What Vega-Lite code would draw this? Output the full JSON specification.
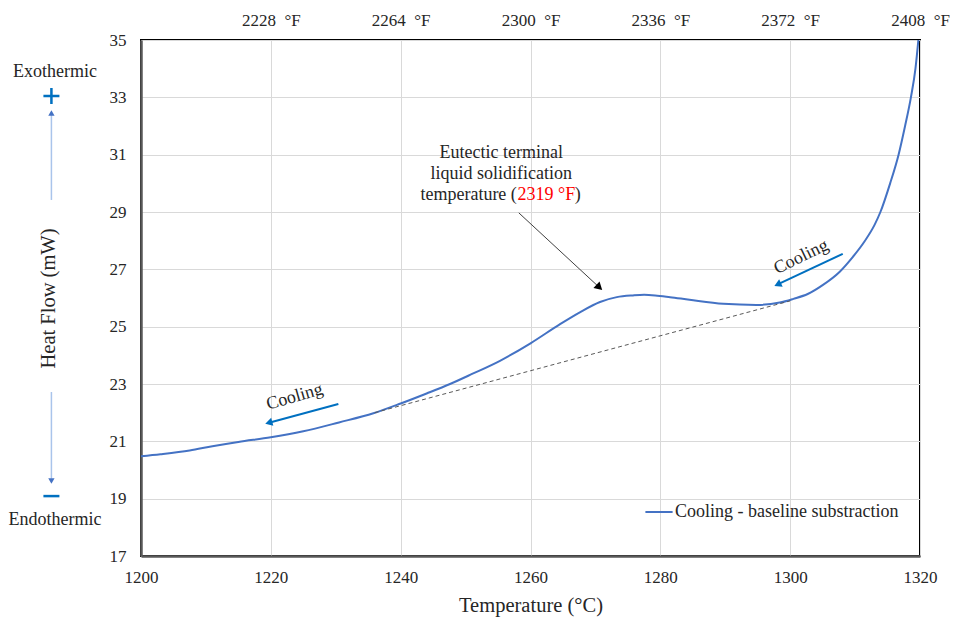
{
  "$schema": "https://vega.github.io/schema/vega-lite/v6.json",
  "width": 779,
  "height": 516,
  "autosize": {"type": "none"},
  "padding": {"left": 141, "top": 40, "right": 35, "bottom": 64},
  "background": "white",
  "config": {
    "font": "Liberation Serif",
    "view": {"stroke": "#000000", "strokeWidth": 2},
    "axis": {"labelFont": "Liberation Serif", "titleFont": "Liberation Serif", "labelColor": "#262626", "titleColor": "#262626", "ticks": false, "tickSize": 0, "gridColor": "#d9d9d9", "gridWidth": 1, "titleFontWeight": "normal", "labelFlush": false, "labelOverlap": false},
    "legend": {"labelFont": "Liberation Serif"}
  },
  "datasets": {
    "curve": [
      {"temp": 1200, "flow": 20.48},
      {"temp": 1203, "flow": 20.55},
      {"temp": 1207.5, "flow": 20.68},
      {"temp": 1211, "flow": 20.83},
      {"temp": 1215, "flow": 20.98},
      {"temp": 1220, "flow": 21.14},
      {"temp": 1225, "flow": 21.35},
      {"temp": 1230.5, "flow": 21.66},
      {"temp": 1235.8, "flow": 21.98},
      {"temp": 1240, "flow": 22.32},
      {"temp": 1244, "flow": 22.67},
      {"temp": 1247.6, "flow": 23.0},
      {"temp": 1251, "flow": 23.35},
      {"temp": 1255.3, "flow": 23.81},
      {"temp": 1260, "flow": 24.42},
      {"temp": 1264.5, "flow": 25.08},
      {"temp": 1267.6, "flow": 25.5},
      {"temp": 1270.7, "flow": 25.86},
      {"temp": 1273.3, "flow": 26.03},
      {"temp": 1275.8, "flow": 26.09},
      {"temp": 1277.5, "flow": 26.11},
      {"temp": 1279.2, "flow": 26.09},
      {"temp": 1281.5, "flow": 26.03},
      {"temp": 1284.5, "flow": 25.94},
      {"temp": 1289.7, "flow": 25.8},
      {"temp": 1294.8, "flow": 25.76},
      {"temp": 1298.4, "flow": 25.84},
      {"temp": 1300.5, "flow": 25.97},
      {"temp": 1302.7, "flow": 26.14},
      {"temp": 1305, "flow": 26.45},
      {"temp": 1307.6, "flow": 26.91},
      {"temp": 1309.6, "flow": 27.42},
      {"temp": 1311.5, "flow": 27.99},
      {"temp": 1313, "flow": 28.55},
      {"temp": 1313.9, "flow": 29.0},
      {"temp": 1315.4, "flow": 30.0},
      {"temp": 1316.7, "flow": 31.0},
      {"temp": 1317.7, "flow": 32.0},
      {"temp": 1318.6, "flow": 33.0},
      {"temp": 1319.3, "flow": 34.0},
      {"temp": 1319.75, "flow": 35.0}
    ]
  },
  "resolve": {"axis": {"x": "independent", "y": "independent"}},
  "layer": [
    {
      "data": {"name": "curve"},
      "mark": {"type": "line", "strokeWidth": 2, "interpolate": "monotone"},
      "encoding": {
        "x": {"field": "temp", "type": "quantitative", "scale": {"domain": [1200, 1320], "nice": false, "zero": false},
          "axis": {"orient": "bottom", "title": "Temperature (°C)", "format": "d", "values": [1200, 1220, 1240, 1260, 1280, 1300, 1320], "grid": true, "labelFontSize": 17, "labelPadding": 21, "labelBaseline": "middle", "titleFontSize": 20.5, "titleY": 49, "titleBaseline": "middle", "domainColor": "#595959", "domainWidth": 2.5}},
        "y": {"field": "flow", "type": "quantitative", "scale": {"domain": [17, 35], "nice": false, "zero": false},
          "axis": {"title": "Heat Flow (mW)", "values": [17, 19, 21, 23, 25, 27, 29, 31, 33, 35], "grid": true, "labelFontSize": 17, "labelPadding": 15, "labelBaseline": "middle", "titleFontSize": 20.5, "titleX": -93, "titleY": 258, "titleBaseline": "middle", "domainColor": "#595959", "domainWidth": 2.5}},
        "color": {"datum": "Cooling - baseline substraction", "type": "nominal", "scale": {"range": ["#4472C4"]},
          "legend": {"title": null, "orient": "none", "legendX": 503, "legendY": 457, "symbolType": "stroke", "symbolSize": 740, "symbolStrokeWidth": 2, "labelFontSize": 18, "labelColor": "#262626", "labelOffset": 1, "labelLimit": 0}}
      }
    },
    {
      "data": {"values": [{"temp": 1236, "flow": 22.0}, {"temp": 1300, "flow": 25.9}]},
      "mark": {"type": "line", "color": "#595959", "strokeWidth": 1, "strokeDash": [4, 3]},
      "encoding": {
        "x": {"field": "temp", "type": "quantitative",
          "axis": {"orient": "top", "title": null, "values": [1220, 1240, 1260, 1280, 1300, 1320], "labelExpr": "format(datum.value * 1.8 + 32, 'd') + '\u00a0 °F'", "grid": false, "domain": false, "labelFontSize": 17, "labelPadding": 20, "labelBaseline": "middle"}},
        "y": {"field": "flow", "type": "quantitative", "axis": null}
      }
    },
    {
      "data": {"values": [{"temp": 1258.2, "flow": 28.97}, {"temp": 1270.46, "flow": 26.4}]},
      "mark": {"type": "line", "color": "#404040", "strokeWidth": 1},
      "encoding": {
        "x": {"field": "temp", "type": "quantitative", "axis": null},
        "y": {"field": "flow", "type": "quantitative", "axis": null}
      }
    },
    {
      "data": {"values": [{"temp": 1270.46, "flow": 26.4}]},
      "mark": {"type": "point", "shape": "triangle", "filled": true, "color": "#000000", "size": 80, "angle": 133, "opacity": 1},
      "encoding": {
        "x": {"field": "temp", "type": "quantitative", "axis": null},
        "y": {"field": "flow", "type": "quantitative", "axis": null}
      }
    },
    {
      "data": {"values": [
        {"arrow": "low", "temp": 1230.4, "flow": 22.3},
        {"arrow": "low", "temp": 1219.86, "flow": 21.66},
        {"arrow": "high", "temp": 1308.1, "flow": 27.54},
        {"arrow": "high", "temp": 1298.24, "flow": 26.49}
      ]},
      "mark": {"type": "line", "color": "#0070C0", "strokeWidth": 2},
      "encoding": {
        "x": {"field": "temp", "type": "quantitative", "axis": null},
        "y": {"field": "flow", "type": "quantitative", "axis": null},
        "detail": {"field": "arrow", "type": "nominal"}
      }
    },
    {
      "data": {"values": [{"temp": 1219.86, "flow": 21.66}]},
      "mark": {"type": "point", "shape": "triangle", "filled": true, "color": "#0070C0", "size": 70, "angle": 255, "opacity": 1},
      "encoding": {
        "x": {"field": "temp", "type": "quantitative", "axis": null},
        "y": {"field": "flow", "type": "quantitative", "axis": null}
      }
    },
    {
      "data": {"values": [{"temp": 1298.24, "flow": 26.49}]},
      "mark": {"type": "point", "shape": "triangle", "filled": true, "color": "#0070C0", "size": 70, "angle": 245, "opacity": 1},
      "encoding": {
        "x": {"field": "temp", "type": "quantitative", "axis": null},
        "y": {"field": "flow", "type": "quantitative", "axis": null}
      }
    },
    {
      "data": {"values": [{"temp": 1223.67, "flow": 22.55, "label": "Cooling"}]},
      "mark": {"type": "text", "fontSize": 18, "color": "#262626", "angle": -16, "align": "center", "baseline": "middle"},
      "encoding": {
        "x": {"field": "temp", "type": "quantitative", "axis": null},
        "y": {"field": "flow", "type": "quantitative", "axis": null},
        "text": {"field": "label"}
      }
    },
    {
      "data": {"values": [{"temp": 1301.7, "flow": 27.43, "label": "Cooling"}]},
      "mark": {"type": "text", "fontSize": 18, "color": "#262626", "angle": -26, "align": "center", "baseline": "middle"},
      "encoding": {
        "x": {"field": "temp", "type": "quantitative", "axis": null},
        "y": {"field": "flow", "type": "quantitative", "axis": null},
        "text": {"field": "label"}
      }
    },
    {
      "data": {"values": [
        {"temp": 1255.5, "flow": 31.06, "label": "Eutectic terminal"},
        {"temp": 1255.5, "flow": 30.33, "label": "liquid solidification"}
      ]},
      "mark": {"type": "text", "fontSize": 18, "color": "#262626", "align": "center", "baseline": "middle"},
      "encoding": {
        "x": {"field": "temp", "type": "quantitative", "axis": null},
        "y": {"field": "flow", "type": "quantitative", "axis": null},
        "text": {"field": "label"}
      }
    },
    {
      "data": {"values": [{"temp": 1257.9, "flow": 29.59, "label": "temperature ("}]},
      "mark": {"type": "text", "fontSize": 18, "color": "#262626", "align": "right", "baseline": "middle"},
      "encoding": {
        "x": {"field": "temp", "type": "quantitative", "axis": null},
        "y": {"field": "flow", "type": "quantitative", "axis": null},
        "text": {"field": "label"}
      }
    },
    {
      "data": {"values": [{"temp": 1258.0, "flow": 29.59, "label": "2319 °F"}]},
      "mark": {"type": "text", "fontSize": 18, "color": "#FF0000", "align": "left", "baseline": "middle"},
      "encoding": {
        "x": {"field": "temp", "type": "quantitative", "axis": null},
        "y": {"field": "flow", "type": "quantitative", "axis": null},
        "text": {"field": "label"}
      }
    },
    {
      "data": {"values": [{"temp": 1266.8, "flow": 29.59, "label": ")"}]},
      "mark": {"type": "text", "fontSize": 18, "color": "#262626", "align": "left", "baseline": "middle"},
      "encoding": {
        "x": {"field": "temp", "type": "quantitative", "axis": null},
        "y": {"field": "flow", "type": "quantitative", "axis": null},
        "text": {"field": "label"}
      }
    },
    {
      "data": {"values": [
        {"temp": 1186.75, "flow": 33.88, "label": "Exothermic"},
        {"temp": 1186.75, "flow": 18.26, "label": "Endothermic"}
      ]},
      "mark": {"type": "text", "fontSize": 18, "color": "#262626", "align": "center", "baseline": "middle"},
      "encoding": {
        "x": {"field": "temp", "type": "quantitative", "axis": null},
        "y": {"field": "flow", "type": "quantitative", "axis": null},
        "text": {"field": "label"}
      }
    },
    {
      "data": {"values": [{"temp": 1186.2, "flow": 33.05}]},
      "mark": {"type": "point", "shape": "M-1,0H1M0,-1V1", "filled": false, "color": "#0070C0", "size": 256, "strokeWidth": 2.5, "opacity": 1},
      "encoding": {
        "x": {"field": "temp", "type": "quantitative", "axis": null},
        "y": {"field": "flow", "type": "quantitative", "axis": null}
      }
    },
    {
      "data": {"values": [{"temp": 1186.2, "flow": 19.09}]},
      "mark": {"type": "point", "shape": "M-1,0H1", "filled": false, "color": "#0070C0", "size": 256, "strokeWidth": 2.5, "opacity": 1},
      "encoding": {
        "x": {"field": "temp", "type": "quantitative", "axis": null},
        "y": {"field": "flow", "type": "quantitative", "axis": null}
      }
    },
    {
      "data": {"values": [
        {"arrow": "up", "temp": 1186.2, "flow": 29.42},
        {"arrow": "up", "temp": 1186.2, "flow": 32.42},
        {"arrow": "down", "temp": 1186.2, "flow": 22.72},
        {"arrow": "down", "temp": 1186.2, "flow": 19.7}
      ]},
      "mark": {"type": "line", "color": "#A9C4EB", "strokeWidth": 1.5},
      "encoding": {
        "x": {"field": "temp", "type": "quantitative", "axis": null},
        "y": {"field": "flow", "type": "quantitative", "axis": null},
        "detail": {"field": "arrow", "type": "nominal"}
      }
    },
    {
      "data": {"values": [{"temp": 1186.2, "flow": 32.42}]},
      "mark": {"type": "point", "shape": "triangle", "filled": true, "color": "#4472C4", "size": 40, "angle": 0, "opacity": 1},
      "encoding": {
        "x": {"field": "temp", "type": "quantitative", "axis": null},
        "y": {"field": "flow", "type": "quantitative", "axis": null}
      }
    },
    {
      "data": {"values": [{"temp": 1186.2, "flow": 19.65}]},
      "mark": {"type": "point", "shape": "triangle", "filled": true, "color": "#4472C4", "size": 40, "angle": 180, "opacity": 1},
      "encoding": {
        "x": {"field": "temp", "type": "quantitative", "axis": null},
        "y": {"field": "flow", "type": "quantitative", "axis": null}
      }
    }
  ]
}
